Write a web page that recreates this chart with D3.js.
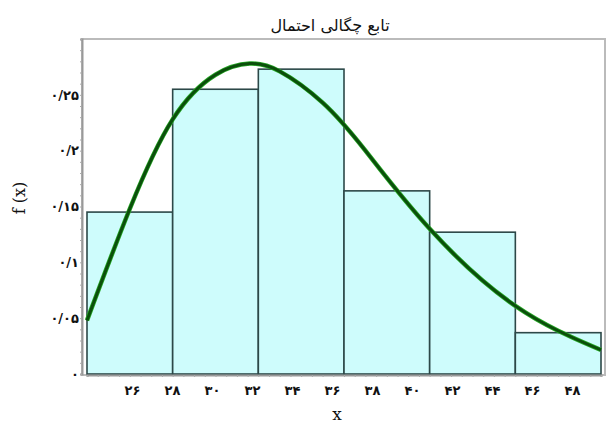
<!DOCTYPE html>
<html>
<head>
<meta charset="utf-8">
<script src="https://cdn.jsdelivr.net/npm/d3@7"></script>
<style>
  body { margin: 0; background: #fff; }
  svg text { font-family: "DejaVu Serif", "DejaVu Sans", serif; fill: #111; }
</style>
</head>
<body>
<script>
// bins (class edges) and relative frequency of each
const binEdges = [24, 28, 32, 36, 40, 44, 48]
const binHeights = [0.145, 0.255, 0.273, 0.164, 0.127, 0.037]

// fitted density curve
const curveX = [24, 26, 28, 30, 31.6, 33, 35, 37, 40, 44, 48]
const curveY = [0.048, 0.148, 0.228, 0.268, 0.278, 0.271, 0.243, 0.2, 0.13, 0.061, 0.0215]

const xTicks = [26, 28, 30, 32, 34, 36, 38, 40, 42, 44, 46, 48]
const yTicks = [0, 0.05, 0.1, 0.15, 0.2, 0.25]

const fa = s => String(s).replace(/\d/g, d => "۰۱۲۳۴۵۶۷۸۹"[d]).replace(".", "/")

const W = 608, H = 428
const svg = d3.select("body").append("svg").attr("width", W).attr("height", H)

const x = d3.scaleLinear().domain([24, 48]).range([87, 601])
const y = d3.scaleLinear().domain([0, 0.3]).range([374, 39])
// the tick labels sit on their own (slightly compressed) spacing in the original
const xLab = d3.scaleLinear().domain([26, 48]).range([132, 572])

// frame
svg.append("rect").attr("x", 82).attr("y", 39).attr("width", 523).attr("height", 336)
    .attr("fill", "#fff").attr("stroke", "#bbb").attr("stroke-width", 2)

// bars
const bars = binHeights.map((h, i) => ({ x0: binEdges[i], x1: binEdges[i + 1], h }))
svg.append("g").selectAll("rect")
    .data(bars)
    .join("rect")
    .attr("x", d => x(d.x0))
    .attr("y", d => y(d.h))
    .attr("width", d => x(d.x1) - x(d.x0))
    .attr("height", d => y(0) - y(d.h))
    .attr("fill", "#cefcfc")
    .attr("stroke", "#2c4848")
    .attr("stroke-width", 1.6)

// axis lines with small minor ticks
const bottomAxis = svg.append("g").attr("transform", "translate(0,375)")
    .call(d3.axisBottom(x).ticks(48).tickSize(2).tickFormat(""))
bottomAxis.select(".domain").attr("stroke", "#999").attr("stroke-width", 2)
bottomAxis.selectAll(".tick line").attr("stroke", "#aaa")

const leftAxis = svg.append("g").attr("transform", "translate(82,0)")
    .call(d3.axisLeft(y).ticks(30).tickSize(2).tickFormat(""))
leftAxis.select(".domain").attr("stroke", "#999").attr("stroke-width", 2)
leftAxis.selectAll(".tick line").attr("stroke", "#aaa")

// tick labels
const xLabels = svg.append("g").attr("transform", "translate(0,377)")
    .call(d3.axisBottom(xLab).tickValues(xTicks).tickSize(0).tickPadding(9).tickFormat(fa))
xLabels.select(".domain").remove()
xLabels.selectAll("text").attr("font-size", 13).attr("font-weight", "bold")

const yLabels = svg.append("g").attr("transform", "translate(79,0)")
    .call(d3.axisLeft(y).tickValues(yTicks).tickSize(0).tickPadding(0).tickFormat(fa))
yLabels.select(".domain").remove()
yLabels.selectAll("text").attr("font-size", 13).attr("font-weight", "bold")

// density curve
const pts = curveX.map((v, i) => [v, curveY[i]])
const line = d3.line().x(d => x(d[0])).y(d => y(d[1])).curve(d3.curveNatural)
svg.append("path").attr("d", line(pts)).attr("fill", "none")
    .attr("stroke", "#27a827").attr("stroke-width", 4.5)
svg.append("path").attr("d", line(pts)).attr("fill", "none")
    .attr("stroke", "#0b4f0b").attr("stroke-width", 3)

// titles
svg.append("text").attr("x", 330).attr("y", 31).attr("text-anchor", "middle")
    .attr("font-size", 16).text("تابع چگالی احتمال")
svg.append("text").attr("x", 337).attr("y", 420).attr("text-anchor", "middle")
    .attr("font-size", 17).text("x")
svg.append("text").attr("transform", "translate(25,198) rotate(-90)").attr("text-anchor", "middle")
    .attr("font-size", 16).text("f (x)")
</script>
</body>
</html>
